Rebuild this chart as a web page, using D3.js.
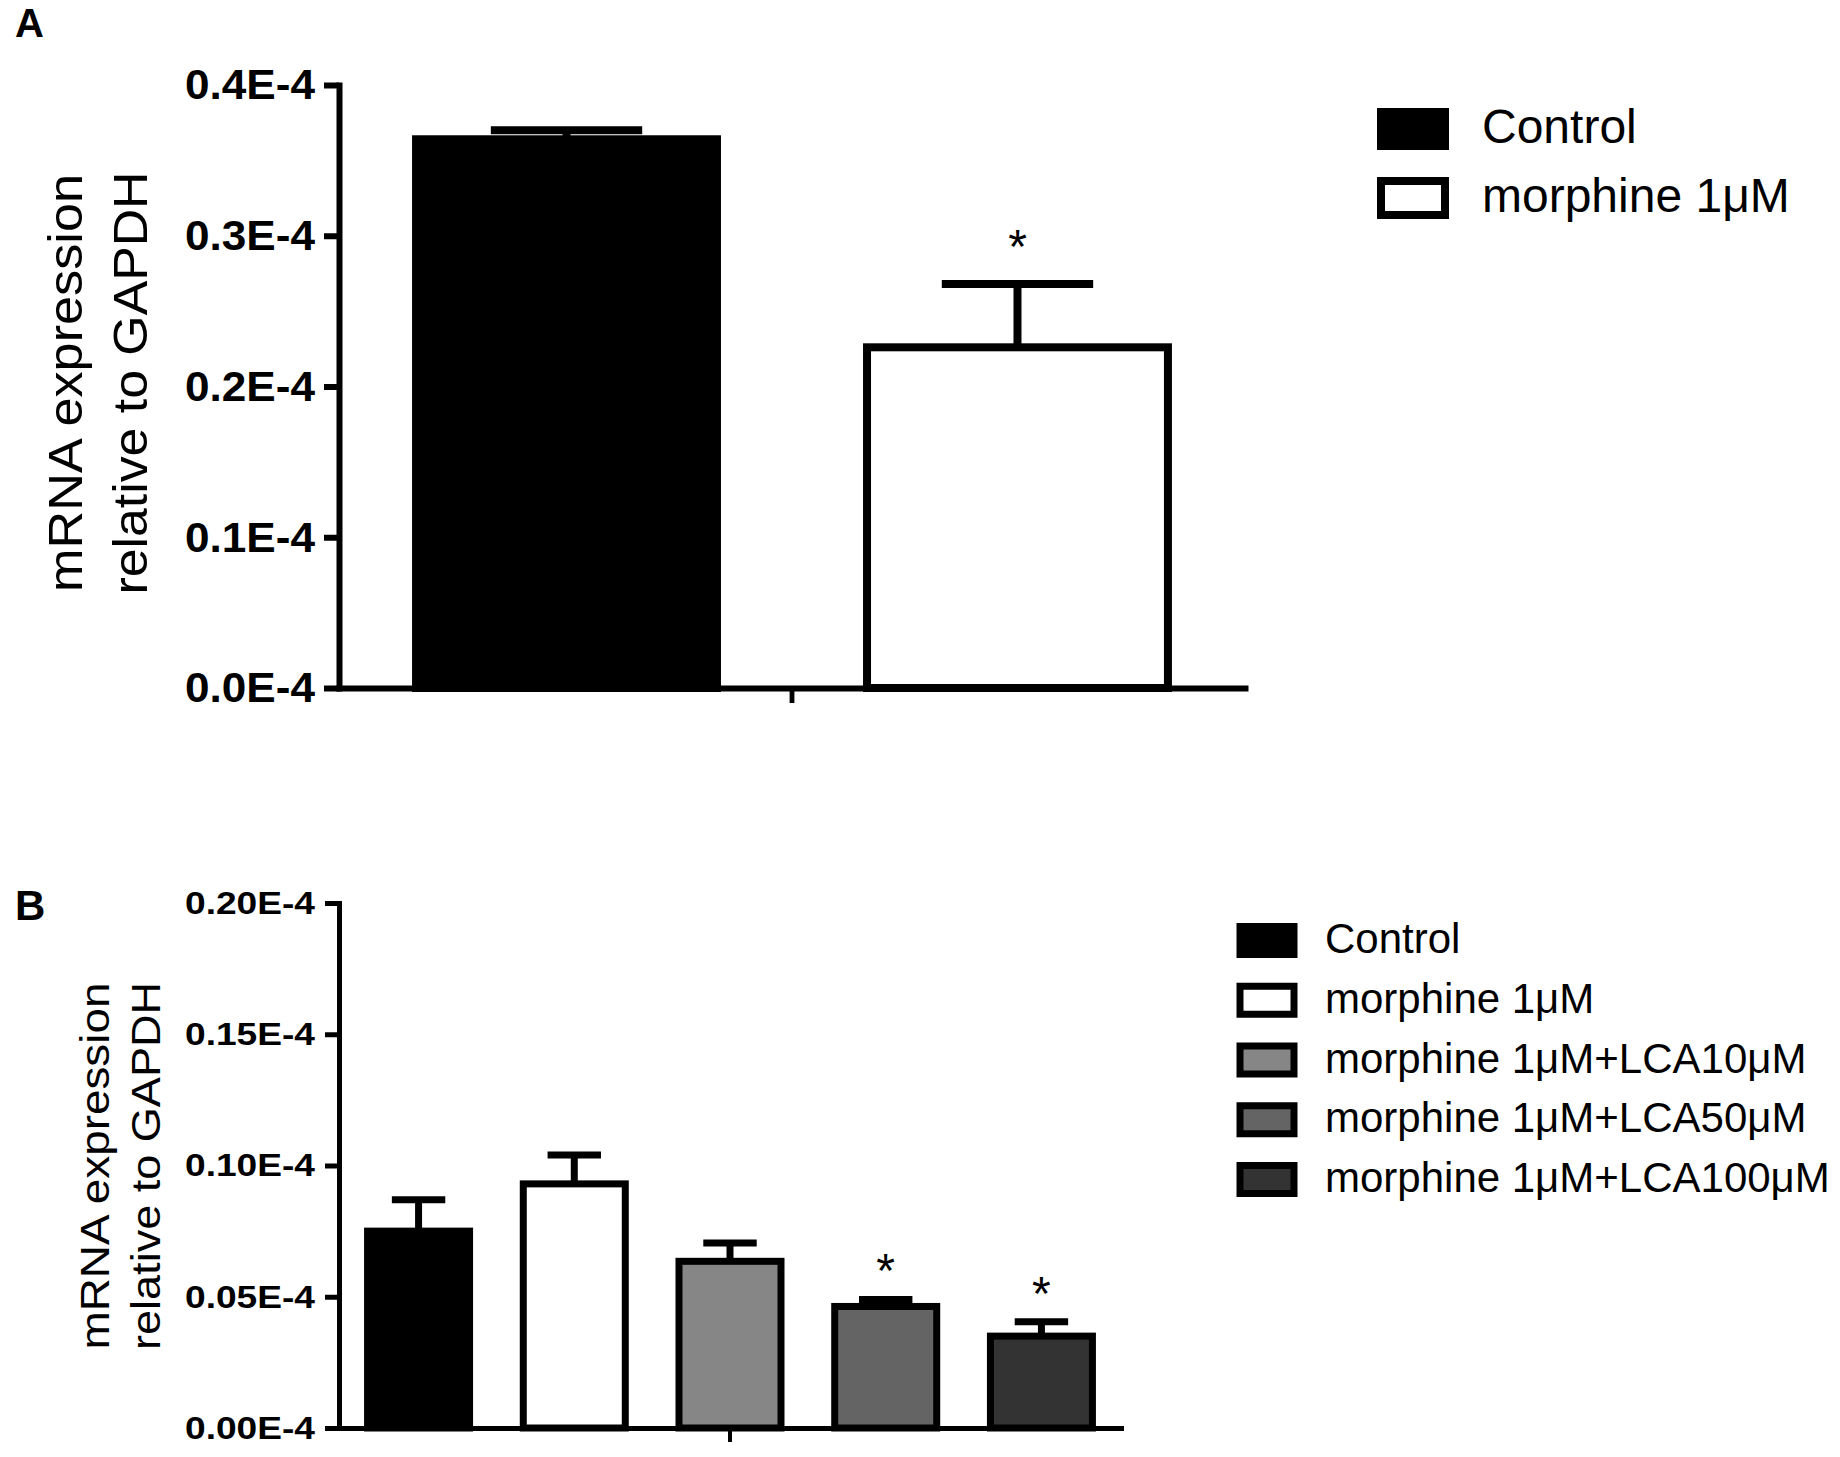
<!DOCTYPE html>
<html>
<head>
<meta charset="utf-8">
<script src="https://cdn.jsdelivr.net/npm/d3@7"></script>
<style>
    body { margin: 0; background: #fff; }
    svg { display: block; font-family: "Liberation Sans", Arial, sans-serif; }
</style>
</head>
<body>
<svg id="chart"></svg>
<script>
// panel A values (in units of E-4)
let groupsA = ["Control", "morphine 1μM"];
let meansA = [0.364, 0.226];
let semA = [0.006, 0.042];
let sigA = [false, true];
let colorsA = ["#000000", "#ffffff"];
let ticksA = [0, 0.1, 0.2, 0.3, 0.4];
let tickLabelsA = ["0.0E-4", "0.1E-4", "0.2E-4", "0.3E-4", "0.4E-4"];

// panel B values (in units of E-4)
let groupsB = ["Control", "morphine 1μM", "morphine 1μM+LCA10μM", "morphine 1μM+LCA50μM", "morphine 1μM+LCA100μM"];
let meansB = [0.075, 0.093, 0.0635, 0.0463, 0.035];
let semB = [0.012, 0.011, 0.007, 0.0027, 0.0055];
let sigB = [false, false, false, true, true];
let colorsB = ["#000000", "#ffffff", "#868686", "#646464", "#333333"];
let ticksB = [0, 0.05, 0.10, 0.15, 0.20];
let tickLabelsB = ["0.00E-4", "0.05E-4", "0.10E-4", "0.15E-4", "0.20E-4"];

let yTitle = ["mRNA expression", "relative to GAPDH"];

let svg = d3.select("#chart")
    .attr("width", 1840)
    .attr("height", 1457);

svg.append("rect")
    .attr("width", 1840)
    .attr("height", 1457)
    .attr("fill", "#fff");

//draw one panel from its layout + data
function drawPanel(p) {
    let g = svg.append("g");

    let x = d3.scaleBand()
        .domain(p.groups)
        .range([p.left, p.right])
        .paddingInner(p.padIn)
        .paddingOuter(p.padOut);

    let y = d3.scaleLinear()
        .domain([0, p.max])
        .range([p.bottom, p.top]);

    // panel letter
    g.append("text")
        .attr("x", p.letterX)
        .attr("y", p.letterY)
        .attr("font-size", p.letterSize)
        .attr("font-weight", "bold")
        .text(p.letter);

    // y axis title, two lines
    yTitle.forEach(function (t, i) {
        g.append("text")
            .attr("transform", "translate(" + p.titleX[i] + "," + p.titleY + ") rotate(-90)")
            .attr("text-anchor", "middle")
            .attr("font-size", p.titleSize)
            .attr("textLength", p.titleLen[i])
            .attr("lengthAdjust", "spacingAndGlyphs")
            .text(t);
    });

    // y axis
    let yAxis = g.append("g")
        .attr("transform", "translate(" + p.left + ",0)")
        .call(d3.axisLeft(y)
            .tickValues(p.ticks)
            .tickFormat(function (d, i) { return p.tickLabels[i]; })
            .tickSize(p.tickSize)
            .tickSizeOuter(0)
            .tickPadding(p.tickPad));
    yAxis.select(".domain").attr("stroke-width", p.axisW).attr("stroke-linecap", "square");
    yAxis.selectAll(".tick line").attr("stroke-width", p.axisW);
    yAxis.selectAll(".tick text")
        .attr("font-family", "'Liberation Sans', Arial, sans-serif")
        .attr("font-size", p.tickFont)
        .attr("font-weight", "bold")
        .attr("fill", "#000")
        .attr("textLength", p.tickLen)
        .attr("lengthAdjust", "spacingAndGlyphs");

    // x axis with one centred tick
    let xGroup = d3.scaleBand().domain(["all"]).range([p.left, p.right]);
    let xAxis = g.append("g")
        .attr("transform", "translate(0," + p.bottom + ")")
        .call(d3.axisBottom(xGroup)
            .tickSize(p.tickSize)
            .tickSizeOuter(0)
            .tickFormat(""));
    xAxis.select(".domain").attr("stroke-width", p.axisW).attr("stroke-linecap", "square");
    xAxis.selectAll(".tick line").attr("stroke-width", p.axisW * 0.8);

    let data = p.groups.map(function (d, i) {
        return {name: d, mean: p.means[i], sem: p.sem[i], sig: p.sig[i], color: p.colors[i]};
    });

    let capW = x.bandwidth() * 0.49;

    // error bars (upper only)
    let err = g.selectAll(".err")
        .data(data)
        .enter()
        .append("g")
        .attr("class", "err");
    err.append("line")
        .attr("x1", function (d) { return x(d.name) + x.bandwidth() / 2; })
        .attr("x2", function (d) { return x(d.name) + x.bandwidth() / 2; })
        .attr("y1", function (d) { return y(d.mean); })
        .attr("y2", function (d) { return y(d.mean + d.sem); })
        .attr("stroke", "#000")
        .attr("stroke-width", p.barW);
    err.append("line")
        .attr("x1", function (d) { return x(d.name) + x.bandwidth() / 2 - capW / 2; })
        .attr("x2", function (d) { return x(d.name) + x.bandwidth() / 2 + capW / 2; })
        .attr("y1", function (d) { return y(d.mean + d.sem); })
        .attr("y2", function (d) { return y(d.mean + d.sem); })
        .attr("stroke", "#000")
        .attr("stroke-width", p.barW);

    // bars
    g.selectAll(".bar")
        .data(data)
        .enter()
        .append("rect")
        .attr("class", "bar")
        .attr("x", function (d) { return x(d.name) + p.barW / 2; })
        .attr("width", x.bandwidth() - p.barW)
        .attr("y", function (d) { return y(d.mean); })
        .attr("height", function (d) { return y(0) - y(d.mean); })
        .attr("fill", function (d) { return d.color; })
        .attr("stroke", "#000")
        .attr("stroke-width", p.barW);

    // significance stars
    g.selectAll(".star")
        .data(data.filter(function (d) { return d.sig; }))
        .enter()
        .append("text")
        .attr("class", "star")
        .attr("x", function (d) { return x(d.name) + x.bandwidth() / 2; })
        .attr("y", function (d) { return y(d.mean + d.sem) - p.starGap; })
        .attr("dy", "0.58em")
        .attr("text-anchor", "middle")
        .attr("font-size", 48)
        .text("*");

    // legend
    let leg = g.selectAll(".leg")
        .data(data)
        .enter()
        .append("g")
        .attr("class", "leg")
        .attr("transform", function (d, i) {
            return "translate(" + p.legX + "," + (p.legY + i * p.legStep) + ")";
        });
    leg.append("rect")
        .attr("y", -p.legH / 2)
        .attr("width", p.legW)
        .attr("height", p.legH)
        .attr("fill", function (d) { return d.color; })
        .attr("stroke", "#000")
        .attr("stroke-width", p.legStroke);
    leg.append("text")
        .attr("x", p.legTextX - p.legX)
        .attr("dy", "0.3em")
        .attr("font-size", p.legFont)
        .text(function (d) { return d.name; });
}

drawPanel({
    letter: "A", letterX: 15, letterY: 37, letterSize: 40,
    groups: groupsA, means: meansA, sem: semA, sig: sigA, colors: colorsA,
    ticks: ticksA, tickLabels: tickLabelsA, max: 0.4,
    left: 339, right: 1245, top: 85, bottom: 688,
    padIn: 0.315, padOut: 0.162,
    tickSize: 15, tickPad: 9, tickFont: 43, tickLen: 130,
    axisW: 6, barW: 8, starGap: 49,
    titleX: [82, 147], titleY: 383, titleSize: 48, titleLen: [418, 423],
    legX: 1381, legY: 129, legStep: 69, legW: 64, legH: 34, legStroke: 8,
    legTextX: 1482, legFont: 48
});

drawPanel({
    letter: "B", letterX: 15, letterY: 920, letterSize: 42,
    groups: groupsB, means: meansB, sem: semB, sig: sigB, colors: colorsB,
    ticks: ticksB, tickLabels: tickLabelsB, max: 0.2,
    left: 339, right: 1121, top: 903, bottom: 1428,
    padIn: 0.30, padOut: 0.161,
    tickSize: 14, tickPad: 10, tickFont: 32, tickLen: 130,
    axisW: 5, barW: 7, starGap: 40,
    titleX: [109, 160], titleY: 1166, titleSize: 40, titleLen: [367, 368],
    legX: 1240, legY: 940.5, legStep: 59.75, legW: 54, legH: 28, legStroke: 7,
    legTextX: 1325, legFont: 42
});
</script>
</body>
</html>
